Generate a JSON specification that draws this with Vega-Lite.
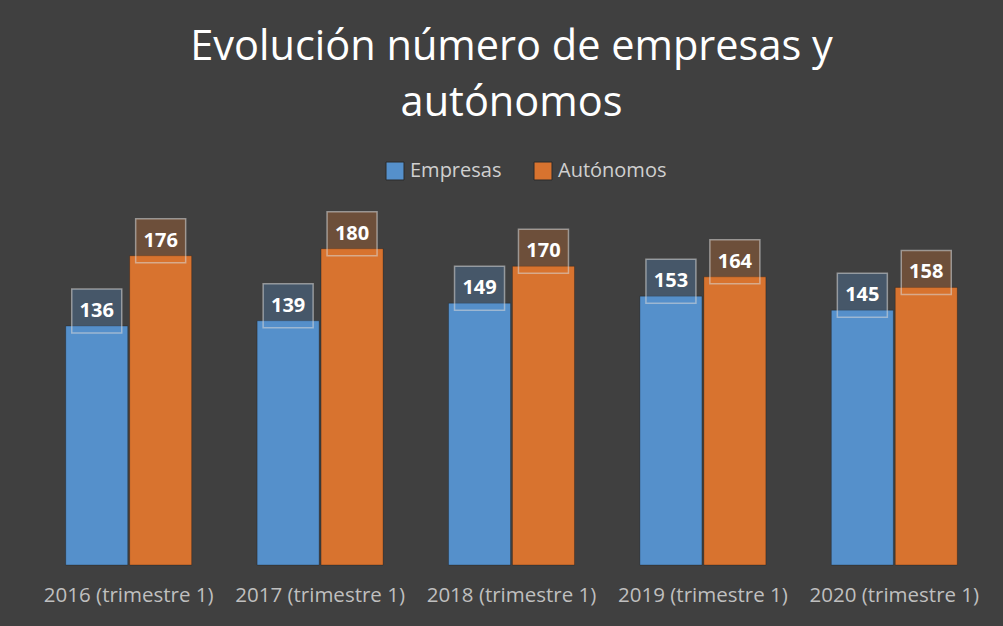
{
  "$schema": "https://vega.github.io/schema/vega-lite/v6.json",
  "width": 957,
  "height": 405,
  "padding": {"left": 33, "top": 26, "right": 13, "bottom": 20},
  "background": "#404040",
  "title": {
    "text": ["Evolución número de empresas y", "autónomos"],
    "fontSize": 41.5,
    "font": "Open Sans",
    "fontWeight": "normal",
    "color": "#ffffff",
    "lineHeight": 56,
    "offset": 36,
    "anchor": "middle"
  },
  "data": {
    "values": [
      {"periodo": "2016 (trimestre 1)", "serie": "Empresas", "valor": 136},
      {"periodo": "2016 (trimestre 1)", "serie": "Autónomos", "valor": 176},
      {"periodo": "2017 (trimestre 1)", "serie": "Empresas", "valor": 139},
      {"periodo": "2017 (trimestre 1)", "serie": "Autónomos", "valor": 180},
      {"periodo": "2018 (trimestre 1)", "serie": "Empresas", "valor": 149},
      {"periodo": "2018 (trimestre 1)", "serie": "Autónomos", "valor": 170},
      {"periodo": "2019 (trimestre 1)", "serie": "Empresas", "valor": 153},
      {"periodo": "2019 (trimestre 1)", "serie": "Autónomos", "valor": 164},
      {"periodo": "2020 (trimestre 1)", "serie": "Empresas", "valor": 145},
      {"periodo": "2020 (trimestre 1)", "serie": "Autónomos", "valor": 158}
    ]
  },
  "encoding": {
    "x": {
      "field": "periodo",
      "type": "nominal",
      "sort": null,
      "scale": {"paddingInner": 0.342, "paddingOuter": 0.171},
      "axis": {
        "title": null,
        "labelAngle": 0,
        "domain": false,
        "ticks": false,
        "labelFontSize": 20.5,
        "labelFont": "Open Sans",
        "labelColor": "#bfbfbf",
        "labelPadding": 20,
        "labelLimit": 300
      }
    },
    "xOffset": {
      "field": "serie",
      "type": "nominal",
      "sort": ["Empresas", "Autónomos"],
      "scale": {"paddingInner": 0.03, "paddingOuter": 0}
    },
    "y": {
      "field": "valor",
      "type": "quantitative",
      "scale": {"domain": [0, 230.5]},
      "axis": null
    },
    "color": {
      "field": "serie",
      "type": "nominal",
      "sort": ["Empresas", "Autónomos"],
      "scale": {"domain": ["Empresas", "Autónomos"], "range": ["#5590cb", "#d8732f"]},
      "legend": {
        "title": null,
        "orient": "none",
        "legendX": 352,
        "legendY": 1,
        "direction": "horizontal",
        "symbolType": "square",
        "symbolSize": 324,
        "symbolOpacity": 1,
        "symbolStrokeColor": "#2a2a2a",
        "symbolStrokeWidth": 1,
        "labelFontSize": 20,
        "labelFont": "Open Sans",
        "labelColor": "#d0d0d0",
        "labelOffset": 5,
        "columnPadding": 30,
        "padding": 0
      }
    }
  },
  "layer": [
    {"mark": {"type": "bar", "stroke": "#000000", "strokeOpacity": 0.25, "strokeWidth": 1}},
    {
      "mark": {
        "type": "point",
        "shape": "M-1,-0.88L1,-0.88L1,0.88L-1,0.88Z",
        "size": 2500,
        "filled": true,
        "opacity": 1,
        "fillOpacity": 0.3,
        "stroke": "#d9d9d9",
        "strokeOpacity": 0.55,
        "strokeWidth": 1.5,
        "yOffset": -15
      }
    },
    {
      "mark": {
        "type": "text",
        "dy": -15,
        "baseline": "middle",
        "fontSize": 20,
        "fontWeight": "bold",
        "font": "Open Sans"
      },
      "encoding": {
        "text": {"field": "valor", "type": "quantitative"},
        "color": {"value": "#ffffff"}
      }
    }
  ],
  "config": {"view": {"stroke": null}, "axis": {"grid": false}}
}
